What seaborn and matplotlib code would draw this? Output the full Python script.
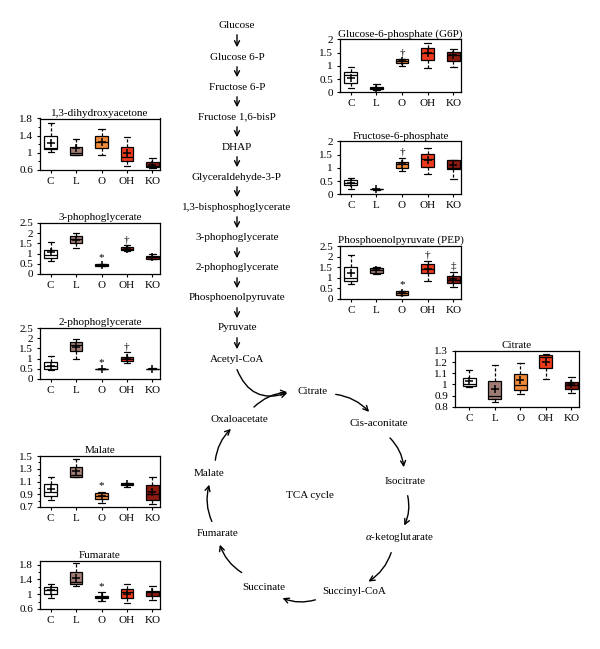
import numpy as np
import pandas as pd
import seaborn as sns
import matplotlib
matplotlib.use('Agg')
import matplotlib.pyplot as plt
from matplotlib.ticker import FixedLocator

# groups and colours
groups = ['C', 'L', 'O', 'OH', 'KO']
group_colors = ['#ffffff', '#a07d74', '#ee8a3a', '#ee3a1c', '#8c1a10']

# box summaries: [low whisker, q1, median, q3, high whisker]
dha_box = [[1.02, 1.08, 1.11, 1.40, 1.70], [0.96, 0.96, 1.00, 1.14, 1.33],
           [0.94, 1.12, 1.26, 1.40, 1.55], [0.70, 0.82, 0.90, 1.14, 1.36],
           [0.64, 0.66, 0.70, 0.78, 0.88]]
dha_mean = [1.24, 1.11, 1.26, 1.00, 0.72]
dha_mark = ['', '', '', '', '']

pg3_box = [[0.66, 0.77, 0.94, 1.18, 1.55], [1.27, 1.51, 1.71, 1.87, 2.00],
           [0.40, 0.41, 0.45, 0.49, 0.50], [1.15, 1.18, 1.24, 1.30, 1.40],
           [0.72, 0.75, 0.82, 0.90, 1.00]]
pg3_mean = [1.07, 1.68, 0.45, 1.24, 0.83]
pg3_mark = ['', '', '*', '†', '']

pg2_box = [[0.45, 0.49, 0.62, 0.81, 1.15], [0.99, 1.35, 1.67, 1.83, 1.95],
           [0.47, 0.48, 0.49, 0.50, 0.51], [0.78, 0.86, 0.97, 1.10, 1.30],
           [0.47, 0.48, 0.50, 0.51, 0.53]]
pg2_mean = [0.65, 1.56, 0.49, 1.02, 0.50]
pg2_mark = ['', '', '*', '†', '']

mal_box = [[0.81, 0.87, 0.94, 1.06, 1.17], [1.17, 1.17, 1.20, 1.33, 1.46],
           [0.76, 0.83, 0.87, 0.92, 0.94], [1.02, 1.04, 1.055, 1.07, 1.07],
           [0.75, 0.81, 0.90, 1.04, 1.17]]
mal_mean = [0.98, 1.27, 0.87, 1.055, 0.93]
mal_mark = ['', '', '*', '', '']

fum_box = [[0.89, 1.01, 1.12, 1.20, 1.27], [1.23, 1.28, 1.33, 1.59, 1.85],
           [0.83, 0.90, 0.93, 0.96, 1.05], [0.76, 0.90, 1.05, 1.14, 1.27],
           [0.85, 0.95, 1.05, 1.10, 1.22]]
fum_mean = [1.12, 1.44, 0.93, 1.01, 1.05]
fum_mark = ['', '', '*', '', '']

g6p_box = [[0.18, 0.34, 0.65, 0.78, 0.97], [0.10, 0.11, 0.16, 0.21, 0.30],
           [1.00, 1.09, 1.17, 1.25, 1.25], [0.91, 1.22, 1.47, 1.66, 1.85],
           [0.97, 1.19, 1.41, 1.53, 1.62]]
g6p_mean = [0.53, 0.16, 1.17, 1.47, 1.40]
g6p_mark = ['', '', '†', '', '']

f6p_box = [[0.19, 0.34, 0.44, 0.54, 0.63], [0.18, 0.19, 0.19, 0.20, 0.20],
           [0.88, 0.98, 1.13, 1.23, 1.36], [0.75, 1.04, 1.32, 1.51, 1.74],
           [0.58, 0.95, 1.00, 1.28, 1.30]]
f6p_mean = [0.42, 0.19, 1.13, 1.30, 1.11]
f6p_mark = ['', '', '†', '', '']

pep_box = [[0.70, 0.85, 0.97, 1.52, 2.07], [1.17, 1.23, 1.36, 1.47, 1.52],
           [0.16, 0.17, 0.28, 0.36, 0.38], [0.84, 1.20, 1.40, 1.63, 1.79],
           [0.54, 0.73, 0.89, 1.08, 1.28]]
pep_mean = [1.23, 1.36, 0.28, 1.39, 0.92]
pep_mark = ['', '', '*', '†', '‡']

cit_box = [[0.98, 0.987, 1.00, 1.06, 1.125], [0.845, 0.87, 0.90, 1.035, 1.17],
           [0.91, 0.95, 0.995, 1.095, 1.19], [1.047, 1.146, 1.246, 1.267, 1.275],
           [0.92, 0.957, 0.996, 1.025, 1.07]]
cit_mean = [1.03, 0.96, 1.04, 1.20, 1.00]
cit_mark = ['', '', '', '', '']

# pathway labels
glyco_steps = ['Glucose', 'Glucose 6-P', 'Fructose 6-P', 'Fructose 1,6-bisP', 'DHAP',
               'Glyceraldehyde-3-P', '1,3-bisphosphoglycerate', '3-phophoglycerate',
               '2-phophoglycerate', 'Phosphoenolpyruvate', 'Pyruvate', 'Acetyl-CoA']
tca_steps = ['Citrate', 'Cis-aconitate', 'Isocitrate', r'$\alpha$-ketoglutarate',
             'Succinyl-CoA', 'Succinate', 'Fumarate', 'Malate', 'Oxaloacetate']

sns.set_style('ticks')
plt.rcParams['font.family'] = ['Liberation Serif', 'DejaVu Serif']
plt.rcParams['mathtext.fontset'] = 'custom'
plt.rcParams['mathtext.it'] = 'Liberation Serif:italic'
plt.rcParams['mathtext.rm'] = 'Liberation Serif'
plt.rcParams['axes.edgecolor'] = 'black'
plt.rcParams['text.color'] = 'black'
plt.rcParams['axes.labelcolor'] = 'black'
plt.rcParams['xtick.color'] = 'black'
plt.rcParams['ytick.color'] = 'black'

W, H = 600, 649
fig = plt.figure(figsize=(W / 100, H / 100), dpi=100)

# background axes in pixel units for the pathway diagram
bg = fig.add_axes([0, 0, 1, 1])
bg.set_xlim(0, W)
bg.set_ylim(H, 0)
bg.axis('off')

FS = 8


def px_axes(left, top, right, bottom):
    return fig.add_axes([left / W, 1 - bottom / H, (right - left) / W, (bottom - top) / H])


def draw_panel(rect, title, box, means, marks, ylim, yticks, minor=None, xleft=-0.42):
    ax = px_axes(*rect)
    rows = [(g, v) for g, five in zip(groups, box) for v in five]
    df = pd.DataFrame(rows, columns=['group', 'value'])
    sns.boxplot(data=df, x='group', y='value', hue='group', order=groups,
                hue_order=groups, palette=dict(zip(groups, group_colors)),
                saturation=1, width=0.5, whis=(0, 100), linecolor='black',
                linewidth=0.9, legend=False, ax=ax,
                whiskerprops=dict(linestyle=(0, (2.5, 1.5))))
    pos = np.arange(len(groups))
    ax.scatter(pos, means, marker='+', s=34, c='black', linewidths=1.1, zorder=6)
    for i, m in enumerate(marks):
        if m:
            ax.annotate(m, (pos[i], box[i][4]), xytext=(0, 1), textcoords='offset points',
                        ha='center', va='bottom', fontsize=FS, color='black')
    ax.set_xlim(xleft, 4.3)
    ax.set_ylim(*ylim)
    ax.set_yticks(yticks)
    ax.set_yticklabels([f'{v:g}' for v in yticks])
    if minor is not None:
        ax.yaxis.set_minor_locator(FixedLocator(minor))
        ax.tick_params(axis='y', which='minor', length=1.8, width=0.7, direction='out')
    ax.set_xlabel('')
    ax.set_ylabel('')
    ax.set_title(title, fontsize=FS, pad=2)
    ax.tick_params(axis='both', which='major', labelsize=FS, length=2.5, width=0.8,
                   pad=2.5, direction='out')
    for s in ax.spines.values():
        s.set_linewidth(0.9)
    return ax


# left column
draw_panel((40, 118.5, 160, 170), '1,3-dihydroxyacetone', dha_box, dha_mean, dha_mark,
           (0.6, 1.8), [0.6, 1, 1.4, 1.8], minor=[0.8, 1.2, 1.6])
draw_panel((40, 223, 160, 274), '3-phophoglycerate', pg3_box, pg3_mean, pg3_mark,
           (0, 2.5), [0, 0.5, 1, 1.5, 2, 2.5])
draw_panel((40, 328, 160, 379), '2-phophoglycerate', pg2_box, pg2_mean, pg2_mark,
           (0, 2.5), [0, 0.5, 1, 1.5, 2, 2.5])
draw_panel((40, 456, 160, 507), 'Malate', mal_box, mal_mean, mal_mark,
           (0.7, 1.5), [0.7, 0.9, 1.1, 1.3, 1.5], minor=[0.8, 1.0, 1.2, 1.4])
draw_panel((40, 561, 160, 609), 'Fumarate', fum_box, fum_mean, fum_mark,
           (0.6, 1.9), [0.6, 1, 1.4, 1.8], minor=[0.8, 1.2, 1.6])

# right column
draw_panel((340, 39.3, 461, 92.3), 'Glucose-6-phosphate (G6P)', g6p_box, g6p_mean, g6p_mark,
           (0, 2), [0, 0.5, 1, 1.5, 2])
draw_panel((340, 141.3, 461, 194.3), 'Fructose-6-phosphate', f6p_box, f6p_mean, f6p_mark,
           (0, 2), [0, 0.5, 1, 1.5, 2])
draw_panel((340, 246, 461, 298.7), 'Phosphoenolpyruvate (PEP)', pep_box, pep_mean, pep_mark,
           (0, 2.5), [0, 0.5, 1, 1.5, 2, 2.5])
draw_panel((455, 351, 579, 406.7), 'Citrate', cit_box, cit_mean, cit_mark,
           (0.8, 1.3), [0.8, 0.9, 1, 1.1, 1.2, 1.3], xleft=-0.56)

# glycolysis column
gx = 237
gy = [25, 57, 87, 117, 147, 177, 207, 238, 268, 298, 328, 359]
for name, y in zip(glyco_steps, gy):
    bg.text(gx, y, name, ha='center', va='center', fontsize=FS)
arrow_kw = dict(arrowstyle='->', lw=1.0, color='black', mutation_scale=9)
for y0, y1 in zip(gy[:-1], gy[1:]):
    bg.annotate('', xy=(gx, y1 - 7), xytext=(gx, y0 + 7), arrowprops=arrow_kw)

# TCA cycle
tca_xy = [(313, 391), (379, 424), (405, 482), (400, 538), (354, 592),
          (264, 587), (218, 533), (209, 474), (239, 419)]
for name, (x, y) in zip(tca_steps, tca_xy):
    bg.text(x, y, name, ha='center', va='center', fontsize=FS)
bg.text(310, 495, 'TCA cycle', ha='center', va='center', fontsize=FS)

tca_arrows = [((333, 394), (371, 414)), ((388, 436), (404, 470)), ((407, 493), (403, 528)),
              ((392, 550), (366, 583)), ((318, 599), (280, 597)), ((244, 574), (219, 542)),
              ((213, 524), (210, 482)), ((215, 463), (233, 427)), ((252, 409), (290, 392))]
for (x0, y0), (x1, y1) in tca_arrows:
    bg.annotate('', xy=(x1, y1), xytext=(x0, y0),
                arrowprops=dict(connectionstyle='arc3,rad=-0.2', **arrow_kw))
# acetyl-CoA feeding into citrate
bg.annotate('', xy=(290, 392), xytext=(236, 367),
            arrowprops=dict(connectionstyle='arc3,rad=0.5', **arrow_kw))

fig.savefig('out.png', dpi=100)
